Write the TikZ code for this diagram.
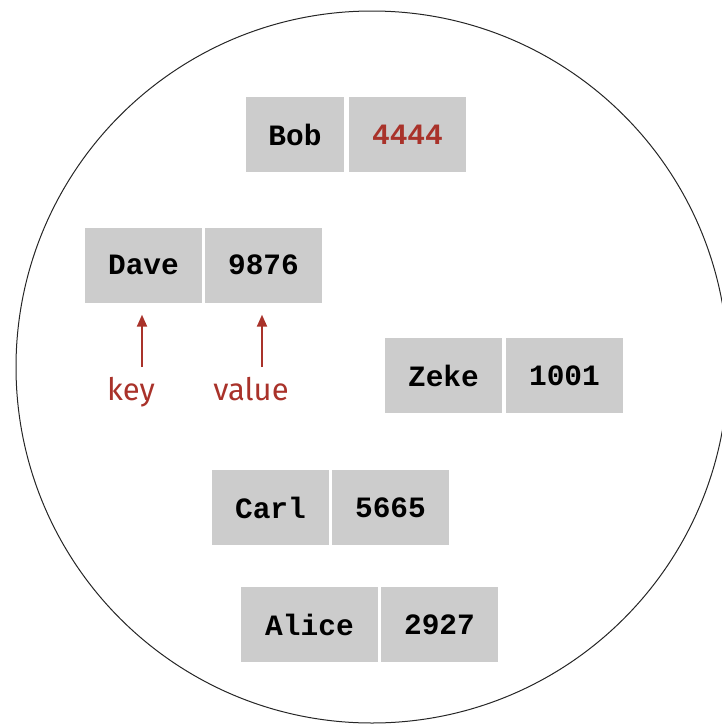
\documentclass[tikz,border=0pt]{standalone}
\usepackage{fontspec}
\setmonofont{Liberation Mono}
\newfontfamily\lblfont{Fira Sans}
\usetikzlibrary{arrows.meta}
\definecolor{boxgray}{HTML}{CCCCCC}
\definecolor{dred}{HTML}{A9322A}
\begin{document}
\begin{tikzpicture}[x=1pt,y=-1pt,
  cell/.style={fill=boxgray, minimum height=75pt, minimum width=117pt, inner sep=0pt,
    font=\ttfamily\bfseries\fontsize{29.5}{29.5}\selectfont},
  lbl/.style={text=dred, anchor=base, inner sep=0pt, font=\lblfont\fontsize{31}{31}\selectfont},
  arr/.style={draw=dred, line width=2pt, -{Triangle[width=10pt,length=12pt]}}]
\useasboundingbox (0,0) rectangle (722,724);
\draw[line width=1pt, black!85] (372,367) circle[radius=356];
% Bob
\node[cell, minimum width=98pt] (bobk) at (295,134.5) {Bob};
\node[cell, text=dred] (bobv) at (407.5,134.5) {4444};
% Dave
\node[cell] (davek) at (143.5,265) {Dave};
\node[cell] (davev) at (263.5,265) {9876};
% Zeke
\node[cell] (zekek) at (443.5,375.5) {Zeke};
\node[cell] (zekev) at (564.5,375.5) {1001};
% Carl
\node[cell] (carlk) at (270.5,507.5) {Carl};
\node[cell] (carlv) at (390.5,507.5) {5665};
% Alice
\node[cell, minimum width=137pt] (alicek) at (309.5,624.5) {Alice};
\node[cell] (alicev) at (439.5,624.5) {2927};
% labels
\node[lbl] (keylbl) at (131,400) {key};
\node[lbl] (vallbl) at (251,400) {value};
\coordinate (kt) at (142,367);
\coordinate (vt) at (262,367);
\coordinate (kh) at ([yshift=-12pt]davek.south);
\coordinate (vh) at ([yshift=-12pt]davev.south);
\draw[arr] (kt) -- (kt |- kh);
\draw[arr] (vt) -- (vt |- vh);
\end{tikzpicture}
\end{document}
